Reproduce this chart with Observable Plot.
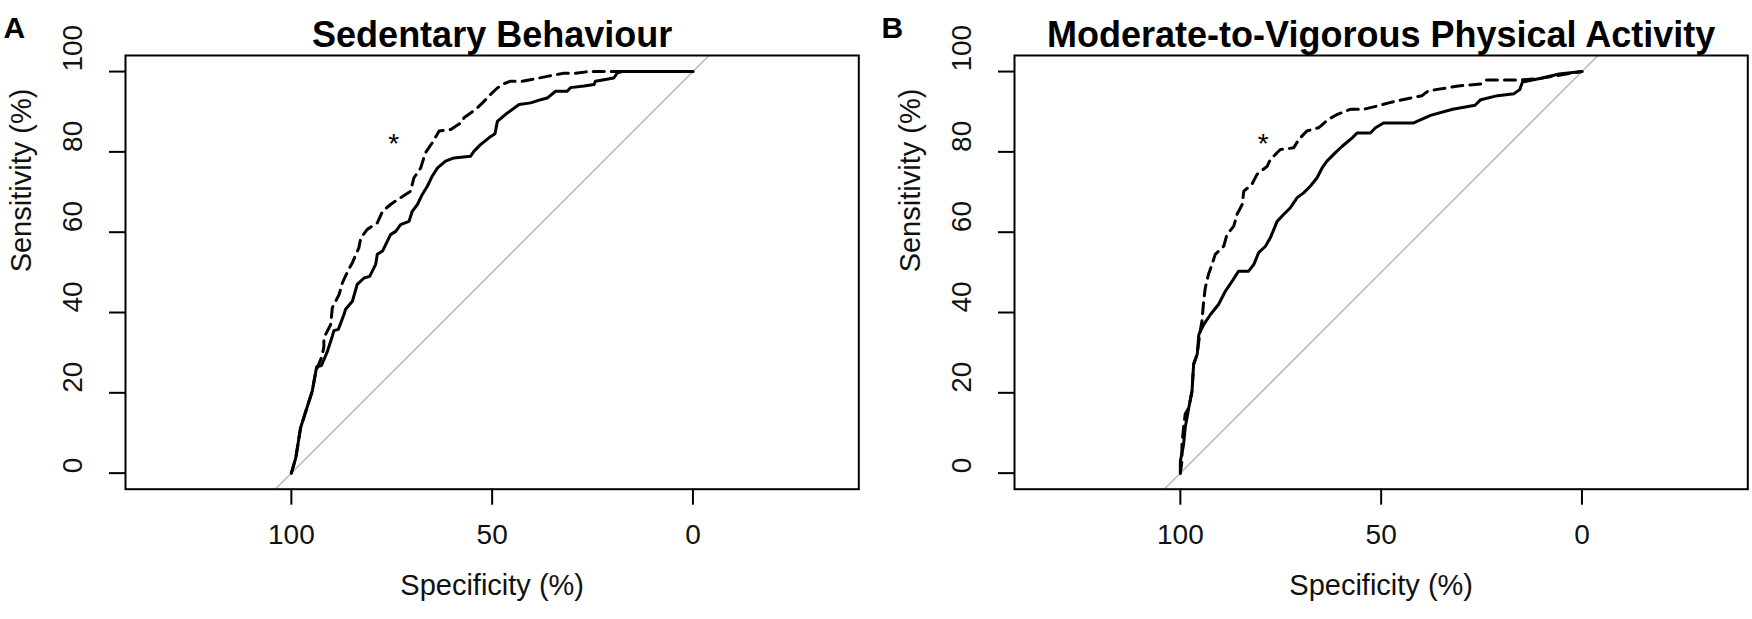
<!DOCTYPE html>
<html>
<head>
<meta charset="utf-8">
<script src="https://cdn.jsdelivr.net/npm/d3@7"></script>
<script src="https://cdn.jsdelivr.net/npm/@observablehq/plot@0.6"></script>
<style>
  html, body { margin: 0; padding: 0; background: #fff; }
  #wrap { display: flex; width: 1752px; height: 619px; overflow: hidden; }
  #wrap > svg { flex: none; }
</style>
</head>
<body>
<div id="wrap"></div>
<script>
// ---- tick labels / text ----
const xTicks = [100, 50, 0];
const yTicks = [0, 20, 40, 60, 80, 100];
const panelLetters = ["A", "B"];
const panelTitles = ["Sedentary Behaviour", "Moderate-to-Vigorous Physical Activity"];
const xLabel = "Specificity (%)";
const yLabel = "Sensitivity (%)";

// ---- chance diagonal (sensitivity = 100 - specificity) ----
const diagSpec = [150, -50];
const diagSens = [-50, 150];

// ---- asterisk positions ----
const starSpec = [74.5, 79.4];
const starSens = [83.5, 83.5];

// ---- Panel A: Sedentary Behaviour, solid ROC ----
const sedSolidSpec = [100, 98.9, 97.7, 96.4, 94.8, 93.9, 93.7, 92.5, 91.0, 89.8, 89.4, 88.3, 86.9, 86.5, 84.8, 83.6, 81.9, 80.5, 79.0, 78.6, 77.3, 75.3, 74.0, 72.8, 70.7, 69.9, 68.6, 67.4, 66.1, 64.9, 63.6, 61.6, 59.5, 55.4, 54.5, 52.9, 50.8, 49.3, 48.7, 46.2, 43.3, 40.4, 37.9, 36.3, 34.2, 31.3, 30.5, 27.1, 24.6, 24.3, 19.7, 18.8, 17.6, 0];
const sedSolidSens = [0, 3.8, 11.3, 15.4, 20.4, 25.4, 26.5, 26.8, 30.4, 34.1, 35.5, 35.8, 39.5, 40.8, 42.8, 47.0, 48.6, 49.0, 52.0, 54.5, 55.3, 59.4, 60.2, 61.9, 62.7, 65.2, 66.9, 69.4, 71.5, 74.0, 76.0, 77.7, 78.5, 78.9, 80.2, 81.8, 83.5, 84.5, 87.6, 89.7, 91.8, 92.2, 93.0, 93.4, 95.1, 95.1, 96.0, 96.4, 96.8, 97.6, 98.4, 99.7, 100, 100];

// ---- Panel A: Sedentary Behaviour, dashed ROC ----
const sedDashSpec = [100, 98.9, 97.7, 96.4, 94.8, 93.9, 92.4, 91.9, 91.9, 90.2, 89.8, 88.1, 87.3, 85.7, 84.8, 83.2, 82.7, 81.1, 78.6, 77.3, 75.3, 72.8, 70.3, 69.5, 67.8, 66.6, 64.9, 63.2, 60.3, 57.8, 57.0, 54.1, 52.4, 50.4, 48.7, 47.0, 45.4, 42.5, 38.3, 36.3, 32.2, 29.2, 25.9, 0];
const sedDashSens = [0, 3.8, 11.3, 15.4, 20.4, 25.4, 29.0, 31.5, 33.7, 37.0, 41.2, 44.5, 47.4, 50.8, 52.4, 56.1, 58.6, 60.7, 62.3, 65.2, 66.9, 68.6, 70.2, 73.5, 76.0, 79.8, 82.3, 85.2, 85.6, 87.2, 88.5, 90.6, 92.2, 94.3, 95.9, 97.0, 97.6, 97.6, 98.4, 98.8, 99.6, 99.6, 100, 100];

// ---- Panel B: MVPA, solid ROC ----
const mvSolidSpec = [100, 100, 99.2, 98.8, 97.9, 97.1, 96.7, 95.8, 95.4, 94.2, 92.5, 90.5, 88.8, 87.1, 85.5, 83.0, 81.7, 80.5, 78.8, 77.6, 75.9, 74.3, 72.6, 70.9, 69.3, 67.6, 66.0, 64.7, 63.5, 61.0, 59.7, 57.2, 56.0, 52.7, 51.4, 49.4, 41.9, 37.7, 32.2, 26.6, 25.2, 21.0, 16.9, 15.5, 14.8, 9.9, 5.7, 0];
const mvSolidSens = [0, 3.0, 7.1, 11.3, 16.3, 20.4, 27.1, 29.6, 34.5, 37.0, 39.5, 42.0, 45.3, 47.8, 50.3, 50.3, 52.0, 54.9, 56.5, 58.6, 62.7, 64.4, 66.1, 68.6, 69.8, 71.5, 73.5, 76.0, 77.7, 80.2, 81.4, 83.5, 84.7, 84.7, 86.0, 87.2, 87.2, 89.1, 90.6, 91.6, 93.0, 94.0, 94.5, 95.5, 97.4, 98.4, 99.4, 100];

// ---- Panel B: MVPA, dashed ROC ----
const mvDashSpec = [100, 99.6, 99.6, 99.2, 98.8, 97.9, 97.1, 96.7, 95.8, 95.2, 94.6, 94.2, 93.8, 93.0, 92.1, 91.3, 89.2, 88.4, 86.7, 85.9, 84.6, 84.2, 82.2, 80.9, 78.4, 77.6, 75.1, 71.8, 70.5, 68.5, 65.6, 63.1, 61.0, 57.7, 54.4, 51.0, 48.1, 46.8, 44.7, 39.8, 38.5, 36.4, 30.8, 25.2, 23.8, 15.5, 11.0, 5.0, 0];
const mvDashSens = [0, 3.0, 7.0, 11.3, 14.7, 16.3, 20.4, 27.1, 29.6, 34.5, 38.0, 42.8, 46.1, 49.5, 52.0, 54.5, 56.5, 59.4, 61.5, 64.4, 66.9, 70.2, 71.9, 74.4, 76.4, 78.1, 80.6, 81.0, 83.1, 85.2, 86.0, 88.1, 89.3, 90.6, 90.6, 91.4, 92.2, 92.5, 93.0, 94.0, 95.0, 95.5, 96.4, 96.9, 97.9, 97.9, 98.2, 99.2, 100];

const zip = (a, b) => a.map((v, i) => ({spec: v, sens: b[i]}));
const FONT = "'Liberation Sans', Arial, Helvetica, sans-serif";

function panel(i, solid, dashed, marginLeft, marginRight) {
  const marginTop = 55, marginBottom = 130.3;
  const diag = zip(diagSpec, diagSens);
  const star = [{spec: starSpec[i], sens: starSens[i]}];
  return Plot.plot({
    width: 876,
    height: 619,
    marginLeft, marginRight, marginTop, marginBottom,
    x: {domain: [141.3, -41.3], axis: null},
    y: {domain: [-4, 104], axis: null},
    style: {fontFamily: FONT, background: "white", color: "black", overflow: "visible"},
    marks: [
      Plot.line(diag, {x: "spec", y: "sens", stroke: "#bebebe", strokeWidth: 1.6, clip: true}),
      Plot.frame({stroke: "black", strokeWidth: 2}),
      Plot.line(dashed, {x: "spec", y: "sens", stroke: "black", strokeWidth: 3, strokeDasharray: "11,7"}),
      Plot.line(solid, {x: "spec", y: "sens", stroke: "black", strokeWidth: 3}),
      Plot.axisX(xTicks, {tickSize: 16, strokeWidth: 2, stroke: "black", tickFormat: () => "", label: null}),
      Plot.axisY(yTicks, {tickSize: 16, strokeWidth: 2, stroke: "black", tickFormat: () => "", label: null}),
      Plot.text(xTicks, {x: d => d, frameAnchor: "bottom", dy: 54.3, text: d => String(d), fontSize: 28, fill: "#111"}),
      Plot.text(yTicks, {y: d => d, frameAnchor: "left", dx: -52, rotate: -90, text: d => String(d), fontSize: 28, fill: "#111"}),
      Plot.text([xLabel], {frameAnchor: "bottom", dy: 105.8, text: d => d, fontSize: 29, fill: "#111"}),
      Plot.text([yLabel], {frameAnchor: "left", dx: -103.5, rotate: -90, text: d => d, fontSize: 29, fill: "#111"}),
      Plot.text([panelTitles[i]], {frameAnchor: "top", dy: -34, text: d => d, fontSize: 36, fontWeight: "bold", fill: "black"}),
      Plot.text([panelLetters[i]], {frameAnchor: "top-left", dx: -(marginLeft - 3 - (i ? 2 : 0)), dy: -38.6, textAnchor: "start", text: d => d, fontSize: 30, fontWeight: "bold", fill: "black"}),
      Plot.text(star, {x: "spec", y: "sens", text: () => "*", fontSize: 28, dy: 6, fill: "black"})
    ]
  });
}

const wrap = document.getElementById("wrap");
wrap.append(panel(0, zip(sedSolidSpec, sedSolidSens), zip(sedDashSpec, sedDashSens), 125, 17.7));
wrap.append(panel(1, zip(mvSolidSpec, mvSolidSens), zip(mvDashSpec, mvDashSens), 138, 4.7));
</script>
</body>
</html>
